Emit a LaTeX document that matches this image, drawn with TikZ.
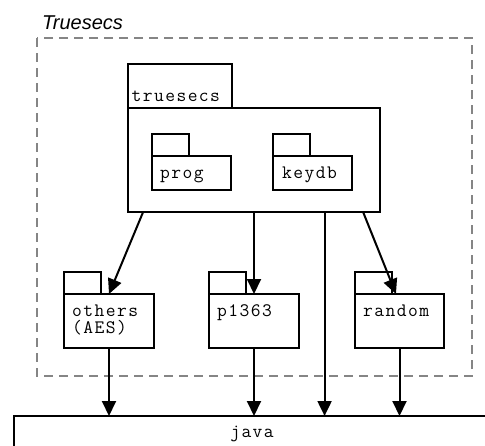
\documentclass[tikz,border=0pt]{standalone}
\usepackage{fontspec}
\newfontfamily\titlefont{Liberation Sans}
\newfontfamily\pkgfont[LetterSpace=7.5]{Latin Modern Mono}
\usetikzlibrary{arrows.meta,calc}
\begin{document}
\begin{tikzpicture}[x=1pt,y=-1pt,
  box/.style={draw=black, line width=2pt, rectangle, inner sep=0pt, outer sep=0pt, anchor=north west},
  pkgtext/.style={font=\pkgfont\fontsize{19}{16.3}\selectfont, inner sep=0pt, anchor=base west, align=left},
  arr/.style={line width=2pt, -{Triangle[length=15pt,width=14pt]}},
  frame/.style={draw=black!48, line width=2pt, dash pattern=on 9pt off 6pt}]
\useasboundingbox (0,0) rectangle (485,445);

% subsystem frame and its caption
\draw[frame] (37,38) rectangle (472,376);
\node[font=\titlefont\itshape\fontsize{20}{24}\selectfont, anchor=base west, inner sep=0pt] (title) at (42,29) {Truesecs};

% truesecs package with its two sub-packages
\node[box, minimum width=104pt, minimum height=44pt] (tstab) at (128,64) {};
\node[box, minimum width=252pt, minimum height=104pt] (ts) at (128,108) {};
\node[pkgtext] (tslabel) at (131.5,101) {truesecs};

\node[box, minimum width=37pt, minimum height=22pt] (progtab) at (152,134) {};
\node[box, minimum width=79pt, minimum height=34pt] (prog) at (152,156) {};
\node[pkgtext] (proglabel) at (160,178) {prog};

\node[box, minimum width=37pt, minimum height=22pt] (keydbtab) at (273,134) {};
\node[box, minimum width=79pt, minimum height=34pt] (keydb) at (273,156) {};
\node[pkgtext] (keydblabel) at (282,178) {keydb};

% lower packages
\node[box, minimum width=37pt, minimum height=22pt] (otherstab) at (64,272) {};
\node[box, minimum width=90pt, minimum height=54pt] (others) at (64,294) {};
\node[pkgtext] (otherslabel) at (72,333) {others\\(AES)};

\node[box, minimum width=37pt, minimum height=22pt] (ptab) at (209,272) {};
\node[box, minimum width=90pt, minimum height=54pt] (p1363) at (209,294) {};
\node[pkgtext] (plabel) at (217,316.7) {p1363};

\node[box, minimum width=37pt, minimum height=22pt] (randomtab) at (355,272) {};
\node[box, minimum width=89pt, minimum height=54pt] (random) at (355,294) {};
\node[pkgtext] (randomlabel) at (363,316.7) {random};

% java platform
\node[box, minimum width=476pt, minimum height=60pt] (java) at (14,416) {};
\node[pkgtext, anchor=base] (javalabel) at (252,437) {java};

% dependencies
\coordinate (tso) at ($(ts.south west)!0.06!(ts.south east)$);
\coordinate (tsp) at (p1363.north |- ts.south);
\coordinate (tsj) at ($(ts.south west)!0.78!(ts.south east)$);
\coordinate (tsr) at ($(ts.south west)!0.933!(ts.south east)$);
\coordinate (rin) at ($(random.north west)!0.46!(random.north east)$);

\draw[arr] (tso) -- (others.north);
\draw[arr] (tsp) -- (p1363.north);
\draw[arr] (tsj) -- (tsj |- java.north);
\draw[arr] (tsr) -- (rin);

\draw[arr] (others.south) -- (others.south |- java.north);
\draw[arr] (p1363.south) -- (p1363.south |- java.north);
\draw[arr] (random.south) -- (random.south |- java.north);
\end{tikzpicture}
\end{document}
